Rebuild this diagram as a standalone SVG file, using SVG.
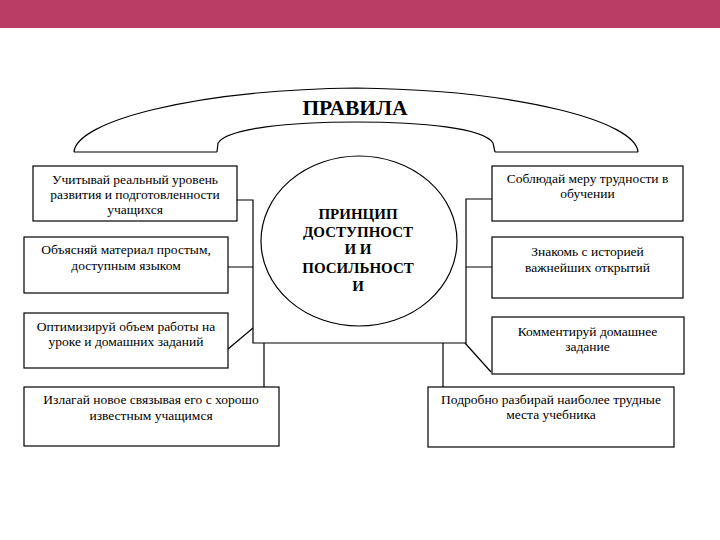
<svg xmlns="http://www.w3.org/2000/svg" width="720" height="540" viewBox="0 0 720 540">
<style>
.box{fill:#fff;stroke:#000;stroke-width:1.2}
.t{font-family:"Liberation Serif","DejaVu Serif","Times New Roman",serif;font-size:13.5px;fill:#000;text-anchor:middle}
.b{font-family:"Liberation Serif","DejaVu Serif","Times New Roman",serif;font-weight:bold;fill:#000;text-anchor:middle}
.c{fill:none;stroke:#000;stroke-width:1.2}
</style>
<rect x="0" y="0" width="720" height="28" fill="#B83E66"/>
<g id="title">
<path class="c" d="M74,152 C76,122 190,90 356,88 C522,90 636,122 638,152 M217,152 L218,143 C228,128 290,122 356,122 C422,122 484,128 493,143 L495,152 M74,152 H217 M495,152 H638"/>
<text class="b" x="355" y="115" font-size="21.5">ПРАВИЛА</text>
</g>
<g id="connectors">
<path class="c" d="M237,200 H253 V343 H466 V199 H492"/>
<path class="c" stroke-width="2.2" d="M228,267 H253 M492,267 H466"/>
<path class="c" d="M228,349 L253,328 M465,343 L491,372 M264,343 V387 M443,343 V387"/>
</g>
<g id="center">
<ellipse cx="359" cy="241" rx="98" ry="85" fill="#fff" stroke="#000" stroke-width="1.2"/>
<text class="b" font-size="15" x="358" y="219">ПРИНЦИП</text>
<text class="b" font-size="15" x="358" y="237">ДОСТУПНОСТ</text>
<text class="b" font-size="15" x="358" y="254">И И</text>
<text class="b" font-size="15" x="358" y="273">ПОСИЛЬНОСТ</text>
<text class="b" font-size="15" x="358" y="291">И</text>
</g>
<g id="l1"><rect class="box" x="33" y="166" width="204" height="55"/>
<text class="t" x="135" y="184">Учитывай реальный уровень</text>
<text class="t" x="135" y="199">развития и подготовленности</text>
<text class="t" x="135" y="214">учащихся</text></g>
<g id="l2"><rect class="box" x="24" y="237" width="204" height="56"/>
<text class="t" x="126" y="254">Объясняй материал простым,</text>
<text class="t" x="126" y="270">доступным языком</text></g>
<g id="l3"><rect class="box" x="24" y="313" width="204" height="55"/>
<text class="t" x="126" y="331">Оптимизируй объем работы на</text>
<text class="t" x="126" y="346">уроке и домашних заданий</text></g>
<g id="l4"><rect class="box" x="24" y="387" width="255" height="59"/>
<text class="t" x="151" y="404">Излагай новое связывая его с хорошо</text>
<text class="t" x="151" y="420">известным учащимся</text></g>
<g id="r1"><rect class="box" x="492" y="166" width="191" height="55"/>
<text class="t" x="587.5" y="183">Соблюдай меру трудности в</text>
<text class="t" x="587.5" y="198">обучении</text></g>
<g id="r2"><rect class="box" x="492" y="237" width="191" height="61"/>
<text class="t" x="587.5" y="256">Знакомь с историей</text>
<text class="t" x="587.5" y="272">важнейших открытий</text></g>
<g id="r3"><rect class="box" x="492" y="317" width="192" height="57"/>
<text class="t" x="587.5" y="336">Комментируй домашнее</text>
<text class="t" x="587.5" y="351">задание</text></g>
<g id="r4"><rect class="box" x="428" y="387" width="246" height="60"/>
<text class="t" x="551" y="404">Подробно разбирай наиболее трудные</text>
<text class="t" x="551" y="419">места учебника</text></g>
</svg>
